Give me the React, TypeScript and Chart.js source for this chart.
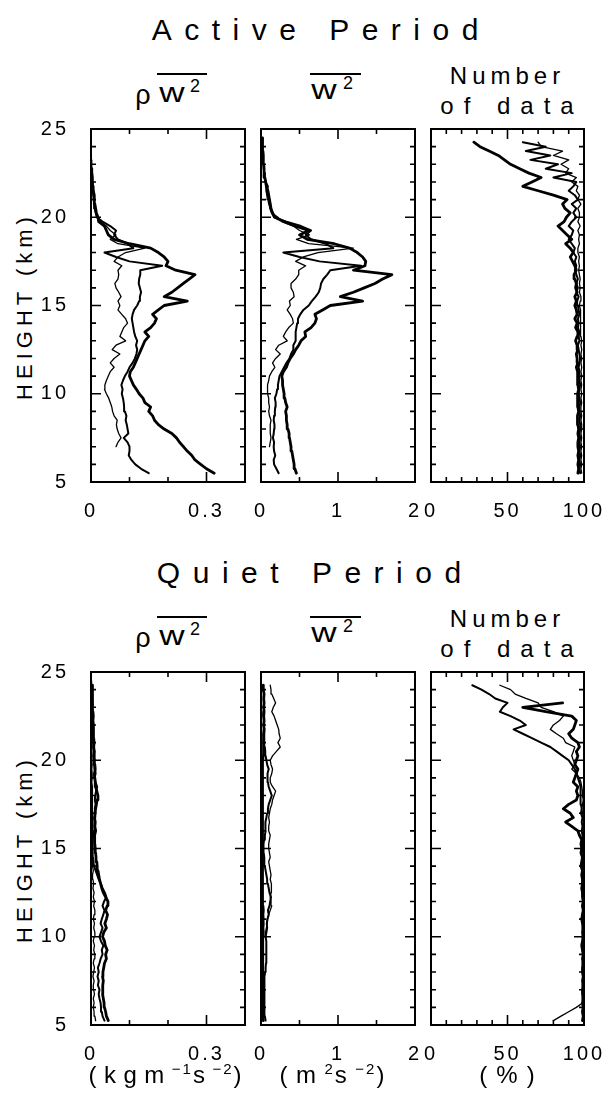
import React, { useEffect, useRef } from 'react';
import { Chart, registerables } from 'chart.js';

Chart.register(...registerables);

const FONT = '"Liberation Sans", Arial, Helvetica, sans-serif';
const _ = null;

// Heights (km), shared by every profile
const heights = [
  5.25, 5.5, 5.75, 6, 6.25, 6.5, 6.75, 7, 7.25, 7.5, 7.75, 8, 8.25, 8.5, 8.75, 9,
  9.25, 9.5, 9.75, 10, 10.25, 10.5, 10.75, 11, 11.25, 11.5, 11.75, 12, 12.25, 12.5, 12.75, 13,
  13.25, 13.5, 13.75, 14, 14.25, 14.5, 14.75, 15, 15.25, 15.5, 15.75, 16, 16.25, 16.5, 16.75, 17,
  17.25, 17.5, 17.75, 18, 18.25, 18.5, 18.75, 19, 19.25, 19.5, 19.75, 20, 20.25, 20.5, 20.75, 21,
  21.25, 21.5, 21.75, 22, 22.25, 22.5, 22.75, 23, 23.25, 23.5, 23.75, 24, 24.25, 24.5, 24.75, 25,
];

// ---------- Active period ----------
const activeRhoW2Thick = [
  _, 0.32, 0.30, 0.285, 0.27, 0.262, 0.25, 0.24, 0.23, 0.222, 0.21, 0.19, 0.175, 0.165, 0.16, 0.15,
  0.155, 0.14, 0.135, 0.125, 0.118, 0.11, 0.105, 0.10, 0.102, 0.11, 0.115, 0.12, 0.125, 0.13, 0.135, 0.14,
  0.15, 0.14, 0.155, 0.165, 0.17, 0.16, 0.175, 0.19, 0.25, 0.19, 0.21, 0.225, 0.24, 0.255, 0.27, 0.22,
  0.195, 0.2, 0.19, 0.175, 0.155, 0.1, 0.06, 0.045, 0.04, 0.035, 0.02, 0.018, 0.014, 0.012, 0.01, 0.009,
  0.008, 0.006, 0.005, 0.004, 0.003, 0.002, 0.002, _, _, _, _, _, _, _, _, _,
];
const activeRhoW2Mid = [
  _, 0.15, 0.13, 0.115, 0.105, 0.098, 0.1, 0.1, 0.095, 0.085, 0.097, 0.095, 0.093, 0.09, 0.092, 0.088,
  0.086, 0.085, 0.083, 0.08, 0.082, 0.079, 0.083, 0.088, 0.095, 0.1, 0.108, 0.114, 0.118, 0.12, 0.117, 0.12,
  0.115, 0.112, 0.11, 0.108, 0.106, 0.108, 0.112, 0.12, 0.125, 0.127, 0.13, 0.127, 0.124, 0.125, 0.128, 0.128,
  0.185, 0.1, 0.065, 0.035, 0.11, 0.095, 0.07, 0.06, 0.065, 0.05, 0.03, 0.015, 0.012, 0.01, 0.009, 0.008,
  0.006, 0.005, 0.006, 0.004, 0.003, 0.003, _, _, _, _, _, _, _, _, _, _,
];
const activeRhoW2Thin = [
  _, _, _, _, _, _, _, 0.065, 0.07, 0.078, 0.072, 0.068, 0.066, 0.068, 0.06, 0.056,
  0.054, 0.05, 0.046, 0.04, 0.035, 0.036, 0.04, 0.045, 0.05, 0.06, 0.05, 0.06, 0.075, 0.055, 0.065, 0.09,
  0.075, 0.08, 0.085, 0.095, 0.09, 0.08, 0.07, 0.075, 0.07, 0.078, 0.072, 0.065, 0.062, 0.07, 0.072, 0.07,
  0.08, 0.06, 0.07, 0.09, 0.14, 0.07, 0.05, 0.065, 0.05, 0.04, 0.025, 0.02, 0.012, 0.01, 0.008, 0.007,
  0.006, 0.005, 0.004, 0.004, 0.003, 0.003, 0.002, 0.002, 0.002, _, _, _, _, _, _, _,
];
const activeW2Thick = [
  _, 0.46, 0.44, 0.43, 0.42, 0.41, 0.40, 0.39, 0.38, 0.37, 0.365, 0.35, 0.34, 0.33, 0.33, 0.32,
  0.34, 0.32, 0.31, 0.30, 0.29, 0.28, 0.28, 0.27, 0.29, 0.33, 0.35, 0.38, 0.42, 0.45, 0.49, 0.52,
  0.58, 0.57, 0.65, 0.7, 0.72, 0.7, 0.8, 0.9, 1.32, 1.03, 1.2, 1.34, 1.48, 1.58, 1.7, 1.2,
  1.35, 1.36, 1.32, 1.25, 1.15, 0.95, 0.6, 0.5, 0.62, 0.45, 0.3, 0.18, 0.15, 0.13, 0.12, 0.11,
  0.1, 0.09, 0.07, 0.06, 0.05, 0.04, 0.04, 0.035, 0.03, 0.03, 0.025, 0.02, 0.02, 0.02, _, _,
];
const activeW2Mid = [
  _, 0.23, 0.2, 0.17, 0.165, 0.185, 0.17, 0.165, 0.17, 0.155, 0.165, 0.17, 0.175, 0.165, 0.17, 0.18,
  0.185, 0.19, 0.18, 0.2, 0.21, 0.22, 0.23, 0.24, 0.27, 0.3, 0.33, 0.37, 0.39, 0.42, 0.42, 0.45,
  0.45, 0.45, 0.46, 0.47, 0.48, 0.51, 0.55, 0.62, 0.66, 0.71, 0.75, 0.77, 0.78, 0.81, 0.86, 0.9,
  1.3, 0.76, 0.5, 0.29, 0.94, 0.84, 0.65, 0.58, 0.65, 0.52, 0.33, 0.17, 0.14, 0.12, 0.12, 0.11,
  0.08, 0.07, 0.09, 0.06, 0.05, 0.05, _, _, _, _, _, _, _, _, _, _,
];
const activeW2Thin = [
  _, _, _, _, _, _, _, 0.11, 0.12, 0.13, 0.12, 0.12, 0.12, 0.13, 0.11, 0.1,
  0.11, 0.1, 0.1, 0.085, 0.08, 0.09, 0.1, 0.11, 0.14, 0.18, 0.15, 0.19, 0.25, 0.19, 0.23, 0.34,
  0.29, 0.32, 0.36, 0.42, 0.41, 0.38, 0.34, 0.38, 0.37, 0.43, 0.42, 0.39, 0.39, 0.45, 0.49, 0.49,
  0.58, 0.45, 0.55, 0.74, 1.2, 0.62, 0.46, 0.63, 0.5, 0.42, 0.27, 0.22, 0.14, 0.12, 0.1, 0.09,
  0.08, 0.07, 0.06, 0.06, 0.05, 0.05, 0.03, 0.03, 0.03, _, _, _, _, _, _, _,
];
const activeCountThick = [
  _, 96, 96.5, 96, 96.5, 96, 96.5, 96, 96, 96.5, 96, 96.5, 96, 95.5, 96, 96.5,
  96, 96, 95.5, 96, 96.5, 96, 96, 95.5, 96, 95, 96, 95.5, 95, 96, 95.5, 94.5,
  95.5, 96, 94.5, 95.5, 94, 95.5, 95, 94, 95, 94, 95.5, 94.5, 95, 94, 93.5, 95,
  94, 92.5, 91, 93, 91, 88, 92, 89, 86, 83, 87, 88.5, 91, 87.5, 86, 89,
  80, 70, 60, 66, 72, 64, 58, 52, 48, 44, 38, 32, 28, _, _, _,
];
const activeCountMid = [
  _, 97.5, 97, 97.5, 97, 97.5, 97, 97.5, 97, 97.5, 97, 97.5, 97.5, 97, 97.5, 97,
  97, 97.5, 97, 96.5, 97, 97.5, 97, 97, 97, 96.5, 97, 97.5, 97, 96.5, 96, 97,
  96.5, 97, 96, 96.5, 96, 97, 96.5, 96, 95.5, 96.5, 95, 96, 95, 96, 95, 94,
  95, 94, 95, 93, 94, 92, 90, 92, 93, 90, 92, 95, 93, 95, 92, 96,
  94, 90, 93, 95, 80, 92, 75, 83, 65, 78, 62, 75, 60, _, _, _,
];
const activeCountThin = [
  _, 98.5, 98, 98.5, 98, 98.5, 98, 98.5, 98, 98.5, 98, 98.5, 98.5, 98, 98.5, 98,
  98, 98.5, 98, 98.5, 98, 98.5, 98, 98.5, 98, 98.5, 98, 98.5, 98, 98.5, 98, 98.5,
  98, 97.5, 98, 97.5, 98, 97.5, 98, 97, 97.5, 98, 97, 97.5, 97, 97.5, 97, 96.5,
  97, 96.5, 97, 96, 96, 97, 96.5, 97, 96, 97.5, 96, 97, 97, 96, 98, 96,
  97, 95, 96, 92, 95, 88, 90, 85, 90, 80, 86, 72, 70, _, _, _,
];

// ---------- Quiet period ----------
const quietRhoW2Thick = [
  0.045, 0.04, 0.038, 0.035, 0.034, 0.032, 0.03, 0.031, 0.03, 0.032, 0.03, 0.031, 0.033, 0.035, 0.04, 0.038,
  0.042, 0.037, 0.035, 0.03, 0.033, 0.04, 0.036, 0.04, 0.043, 0.038, 0.042, 0.044, 0.038, 0.032, 0.028, 0.025,
  0.022, 0.02, 0.018, 0.016, 0.015, 0.013, 0.012, 0.011, 0.01, 0.009, 0.01, 0.012, 0.01, 0.011, 0.009, 0.01,
  0.012, 0.014, 0.016, 0.018, 0.015, 0.012, 0.011, 0.01, 0.009, 0.011, 0.01, 0.008, 0.009, 0.008, 0.007, 0.008,
  0.007, 0.006, 0.007, 0.006, 0.005, 0.006, 0.005, 0.004, 0.005, 0.004, 0.004, 0.003, 0.003, _, _, _,
];
const quietRhoW2Mid = [
  0.035, 0.03, 0.028, 0.026, 0.025, 0.022, 0.02, 0.022, 0.018, 0.02, 0.017, 0.02, 0.018, 0.022, 0.025, 0.03,
  0.028, 0.032, 0.026, 0.022, 0.026, 0.03, 0.025, 0.028, 0.032, 0.035, 0.03, 0.034, 0.04, 0.036, 0.03, 0.026,
  0.02, 0.016, 0.012, 0.008, 0.006, 0.005, 0.004, 0.004, 0.004, 0.005, 0.006, 0.008, 0.009, 0.01, 0.008, 0.012,
  0.01, 0.012, 0.01, 0.011, 0.013, 0.016, 0.012, 0.009, 0.012, 0.01, 0.008, 0.01, 0.007, 0.009, 0.006, 0.007,
  0.005, 0.006, 0.004, 0.005, 0.004, 0.003, 0.004, 0.003, 0.003, 0.002, _, _, _, _, _, _,
];
const quietRhoW2Thin = [
  0.012, 0.01, 0.008, 0.006, 0.008, 0.006, 0.009, 0.007, 0.006, 0.008, 0.005, 0.007, 0.009, 0.006, 0.008, 0.01,
  0.007, 0.009, 0.006, 0.008, 0.01, 0.007, 0.009, 0.006, 0.008, 0.01, 0.007, 0.009, 0.006, 0.008, 0.005, 0.007,
  0.005, 0.004, 0.006, 0.004, 0.003, 0.005, 0.004, 0.003, 0.004, 0.003, 0.005, 0.004, 0.003, 0.004, 0.003, 0.005,
  0.004, 0.003, 0.004, 0.003, 0.004, 0.003, 0.002, 0.003, 0.003, 0.002, 0.003, 0.002, 0.003, 0.002, 0.002, 0.003,
  0.002, 0.002, 0.003, 0.002, 0.002, 0.002, 0.001, 0.002, 0.002, 0.001, 0.002, 0.001, 0.001, 0.001, _, _,
];
const quietW2Thick = [
  0.03, 0.025, 0.02, 0.025, 0.02, 0.025, 0.02, 0.022, 0.02, 0.025, 0.02, 0.022, 0.025, 0.02, 0.025, 0.02,
  0.022, 0.025, 0.02, 0.025, 0.03, 0.025, 0.03, 0.028, 0.025, 0.03, 0.025, 0.02, 0.025, 0.02, 0.022, 0.02,
  0.018, 0.02, 0.015, 0.018, 0.015, 0.018, 0.015, 0.02, 0.018, 0.015, 0.02, 0.018, 0.02, 0.015, 0.018, 0.02,
  0.022, 0.018, 0.02, 0.025, 0.02, 0.022, 0.018, 0.02, 0.025, 0.02, 0.022, 0.025, 0.03, 0.035, 0.03, 0.035,
  0.03, 0.035, 0.04, 0.035, 0.04, 0.035, 0.04, 0.035, 0.04, 0.035, 0.04, 0.03, 0.03, _, _, _,
];
const quietW2Mid = [
  0.06, 0.05, 0.045, 0.04, 0.045, 0.04, 0.05, 0.045, 0.04, 0.05, 0.045, 0.055, 0.06, 0.065, 0.07, 0.065,
  0.075, 0.07, 0.065, 0.06, 0.07, 0.08, 0.075, 0.085, 0.1, 0.09, 0.11, 0.12, 0.13, 0.11, 0.1, 0.09,
  0.08, 0.07, 0.06, 0.05, 0.045, 0.04, 0.035, 0.03, 0.035, 0.04, 0.05, 0.06, 0.055, 0.06, 0.07, 0.08,
  0.09, 0.1, 0.12, 0.14, 0.12, 0.1, 0.09, 0.08, 0.09, 0.1, 0.08, 0.07, 0.06, 0.055, 0.05, 0.045,
  0.04, 0.045, 0.04, 0.035, 0.04, 0.035, 0.03, _, _, _, _, _, _, _, _, _,
];
const quietW2Thin = [
  _, _, _, _, _, _, _, _, _, _, _, _, _, _, _, _,
  _, _, _, 0.05, 0.06, 0.07, 0.08, 0.08, 0.1, 0.12, 0.14, 0.13, 0.12, 0.13, 0.14, 0.13,
  0.12, 0.13, 0.12, 0.11, 0.1, 0.12, 0.11, 0.1, 0.1, 0.11, 0.12, 0.1, 0.1, 0.11, 0.1, 0.11,
  0.12, 0.14, 0.15, 0.17, 0.19, 0.15, 0.12, 0.12, 0.14, 0.15, 0.13, 0.12, 0.15, 0.2, 0.25, 0.22,
  0.25, 0.235, 0.23, 0.21, 0.19, 0.17, 0.14, 0.16, 0.19, 0.165, 0.14, 0.13, 0.12, _, _, _,
];
const quietCountThick = [
  99, 99.5, 99, 99.5, 99, 99.5, 99, 99, 99.5, 99, 99.5, 99, 99, 99.5, 99, 99.5,
  99, 98.5, 99, 99.5, 99, 99.5, 99, 98.5, 99, 99.5, 99, 99.5, 99, 99, 98.5, 99,
  99, 98.5, 99, 98, 98.5, 99, 98, 98.5, 98, 98.5, 97, 96, 92, 88, 93, 91,
  86.5, 90, 95, 96, 95, 96, 93, 94, 95, 96, 94, 95, 96, 95, 97, 96,
  92, 90, 93, 94, 95, 92, 75, 60, 86, _, _, _, _, _, _, _,
];
const quietCountMid = [
  99.5, 99.5, 99, 99.5, 99.5, 99, 99.5, 99.5, 99, 99.5, 99.5, 99, 99.5, 99, 99.5, 99.5,
  99, 99.5, 99.5, 99, 99.5, 99, 99.5, 99.5, 99, 99.5, 99, 99.5, 99.5, 99, 99.5, 99,
  99.5, 99, 99.5, 99, 99.5, 99, 99.5, 99, 99, 99.5, 99, 98.5, 99, 98.5, 99, 98,
  98.5, 98, 97.5, 98, 98, 97.5, 97, 96, 95, 94, 92, 90, 86, 82, 78, 72,
  66, 60, 54, 62, 58, 52, 45, 47, 50, 42, 38, 33, 27, _, _, _,
];
const quietCountThin = [
  80, 85, 90, 95, 99, 99.5, 99.8, 99.5, 99.8, 99.5, 99.8, 99.5, 99.8, 99.5, 99.8, 99.5,
  99.8, 99.5, 99.8, 99.5, 99.8, 99.5, 99.8, 99.5, 99.8, 99.5, 99.8, 99.5, 99.8, 99.5, 99.8, 99.5,
  99.8, 99.5, 99.8, 99.5, 99.8, 99.5, 99.8, 99.5, 99.5, 99.8, 99.5, 99.8, 99.5, 99.8, 99.5, 99,
  99.5, 99, 99.5, 99, 99, 98.5, 98, 97, 95, 92, 94, 93, 92, 93, 94, 88,
  86.5, 82, 78, 80, 84, 86.5, 80, 72, 70, 62, 55, 52, 45, _, _, _,
];

// ---------- Axis ticks ----------
const rhoTickValues = [0, 0.3];
const rhoTickText = ['0', '0.3'];
const w2TickValues = [0, 1, 2];
const w2TickText = ['0', '1', '2'];
const countTickValues = [0, 50, 100];
const countTickText = ['0', '50', '100'];

const THICK = 2.8;
const MID = 2.0;
const THIN = 1.3;

const PAD_T = 14;
const BOTTOM = 44;

const frameTicks = {
  id: 'frameTicks',
  beforeDraw(chart: any) {
    (chart.ctx as any).letterSpacing = '3px';
  },
  afterDraw(chart: any) {
    const { ctx, chartArea: a, scales } = chart;
    const xs = scales.x;
    const ys = scales.y;
    ctx.save();
    ctx.strokeStyle = '#000';
    ctx.lineWidth = 2;
    ctx.strokeRect(a.left, a.top, a.right - a.left, a.bottom - a.top);
    ctx.lineWidth = 1.6;
    ctx.beginPath();
    xs.ticks.forEach((t: any) => {
      const px = xs.getPixelForValue(t.value);
      if (px <= a.left + 1 || px >= a.right - 1) return;
      const len = t.label ? 10 : 5;
      ctx.moveTo(px, a.bottom);
      ctx.lineTo(px, a.bottom - len);
      ctx.moveTo(px, a.top);
      ctx.lineTo(px, a.top + len);
    });
    for (let v = ys.min; v <= ys.max; v += 1) {
      const py = ys.getPixelForValue(v);
      if (py <= a.top + 1 || py >= a.bottom - 1) continue;
      const len = v % 5 === 0 ? 10 : 5;
      ctx.moveTo(a.left, py);
      ctx.lineTo(a.left + len, py);
      ctx.moveTo(a.right, py);
      ctx.lineTo(a.right - len, py);
    }
    ctx.stroke();
    ctx.restore();
  },
};

type Series = { values: (number | null)[]; width: number };

type PanelProps = {
  left: number; top: number; width: number; height: number;
  yLabels: boolean; xMax: number; xStep: number;
  tickValues: number[]; tickText: string[];
  series: Series[]; padRight: number;
};

function Panel(p: PanelProps) {
  const ref = useRef<HTMLCanvasElement>(null);
  const leftM = p.yLabels ? p.left : 10;
  const cl = p.left - leftM;
  const ct = p.top - PAD_T;
  const cw = leftM + p.width + p.padRight;
  const ch = PAD_T + p.height + BOTTOM;

  useEffect(() => {
    if (!ref.current) return;
    const chart = new Chart(ref.current, {
      type: 'scatter',
      data: {
        datasets: p.series.map((s) => ({
          data: heights
            .map((h, i) => (s.values[i] == null ? null : { x: s.values[i] as number, y: h }))
            .filter((d) => d !== null) as { x: number; y: number }[],
          showLine: true,
          borderColor: '#000',
          backgroundColor: '#000',
          borderWidth: s.width,
          pointRadius: 0,
          pointHoverRadius: 0,
          tension: 0,
          fill: false,
          borderJoinStyle: 'round' as const,
          borderCapStyle: 'round' as const,
        })),
      },
      options: {
        responsive: false,
        animation: false,
        devicePixelRatio: 1,
        events: [],
        layout: { padding: { top: PAD_T, right: p.padRight, left: 0, bottom: 0 } },
        plugins: { legend: { display: false }, tooltip: { enabled: false } },
        scales: {
          x: {
            type: 'linear',
            position: 'bottom',
            min: 0,
            max: p.xMax,
            grid: { display: false },
            border: { display: false },
            ticks: {
              stepSize: p.xStep,
              autoSkip: false,
              maxRotation: 0,
              padding: 9,
              color: '#000',
              font: { family: FONT, size: 20 },
              callback: (v: any) => {
                const k = p.tickValues.findIndex((t) => Math.abs(t - Number(v)) < 1e-9);
                return k >= 0 ? p.tickText[k] : '';
              },
            },
            afterFit: (s: any) => { s.height = BOTTOM; s.paddingLeft = 0; s.paddingRight = 0; },
          },
          y: {
            type: 'linear',
            min: 5,
            max: 25,
            grid: { display: false },
            border: { display: false },
            ticks: {
              display: p.yLabels,
              stepSize: 5,
              padding: 14,
              color: '#000',
              font: { family: FONT, size: 20 },
            },
            afterFit: (s: any) => { s.width = leftM; s.paddingTop = 0; s.paddingBottom = 0; },
          },
        },
      } as any,
      plugins: [frameTicks],
    });
    return () => chart.destroy();
  }, []);

  return (
    <canvas
      ref={ref}
      width={cw}
      height={ch}
      style={{ position: 'absolute', left: cl, top: ct, width: cw, height: ch }}
    />
  );
}

function Txt({ x, y, size, spacing = 0, sx = 1, children }: { x: number; y: number; size: number; spacing?: number; sx?: number; children: React.ReactNode }) {
  return (
    <div
      style={{
        position: 'absolute',
        left: x,
        top: y - 0.8465 * size,
        fontSize: size,
        lineHeight: `${size}px`,
        fontFamily: FONT,
        letterSpacing: spacing,
        paddingLeft: spacing,
        whiteSpace: 'nowrap',
        transform: `translateX(-50%) scaleX(${sx})`,
        color: '#000',
      }}
    >
      {children}
    </div>
  );
}

function Bar({ x1, x2, y }: { x1: number; x2: number; y: number }) {
  return <div style={{ position: 'absolute', left: x1, top: y, width: x2 - x1, height: 2, background: '#000' }} />;
}

const unitSup: React.CSSProperties = { fontSize: 15, verticalAlign: 'baseline', position: 'relative', top: -9, letterSpacing: 2 };

function Row({ top, title, titleX }: { top: number; title: string; titleX: number }) {
  const H = 353;
  const cols = [91, 261, 431];
  const W = 154;
  const off = top - 129;
  const active = title.startsWith('A');
  return (
    <>
      <Txt x={titleX} y={40 + off} size={30} spacing={12.5}>{title}</Txt>
      {/* rho w^2 header */}
      <Txt x={143} y={105 + off} size={27}>ρ</Txt>
      <Txt x={172} y={103 + off} size={27} sx={1.3}>w</Txt>
      <Txt x={195} y={92 + off} size={18}>2</Txt>
      <Bar x1={157} x2={207} y={73 + off} />
      {/* w^2 header */}
      <Txt x={324} y={100 + off} size={27} sx={1.3}>w</Txt>
      <Txt x={348} y={89 + off} size={18}>2</Txt>
      <Bar x1={310} x2={361} y={73 + off} />
      <Txt x={505} y={84 + off} size={24} spacing={5}>Number</Txt>
      <Txt x={507} y={114 + off} size={24} spacing={10}>of data</Txt>
      <div
        style={{
          position: 'absolute', left: 25, top: top + H / 2, fontFamily: FONT, fontSize: 22,
          letterSpacing: 5, whiteSpace: 'nowrap', transform: 'translate(-50%, -50%) rotate(-90deg)',
          lineHeight: '22px',
        }}
      >
        HEIGHT (km)
      </div>
      <Panel left={cols[0]} top={top} width={W} height={H} yLabels xMax={0.4} xStep={0.1}
        tickValues={rhoTickValues} tickText={rhoTickText} padRight={8}
        series={active
          ? [{ values: activeRhoW2Thick, width: THICK }, { values: activeRhoW2Mid, width: MID }, { values: activeRhoW2Thin, width: THIN }]
          : [{ values: quietRhoW2Thick, width: THICK }, { values: quietRhoW2Mid, width: MID }, { values: quietRhoW2Thin, width: THIN }]} />
      <Panel left={cols[1]} top={top} width={W} height={H} yLabels={false} xMax={2} xStep={0.5}
        tickValues={w2TickValues} tickText={w2TickText} padRight={6}
        series={active
          ? [{ values: activeW2Thick, width: THICK }, { values: activeW2Mid, width: MID }, { values: activeW2Thin, width: THIN }]
          : [{ values: quietW2Thick, width: THICK }, { values: quietW2Mid, width: MID }, { values: quietW2Thin, width: THIN }]} />
      <Panel left={cols[2]} top={top} width={153} height={H} yLabels={false} xMax={100} xStep={10}
        tickValues={countTickValues} tickText={countTickText} padRight={24}
        series={active
          ? [{ values: activeCountThick, width: THICK }, { values: activeCountMid, width: MID }, { values: activeCountThin, width: THIN }]
          : [{ values: quietCountThick, width: THICK }, { values: quietCountMid, width: MID }, { values: quietCountThin, width: THIN }]} />
    </>
  );
}

export default function App() {
  return (
    <div style={{ position: 'absolute', left: 0, top: 0, width: 608, height: 1093, background: '#fff', overflow: 'hidden' }}>
      <Row top={129} title="Active Period" titleX={315} />
      <Row top={672} title="Quiet Period" titleX={309} />
      <Txt x={165} y={1083} size={24} spacing={7.5}>
        (kgm<span style={unitSup}>−1</span>s<span style={unitSup}>−2</span>)
      </Txt>
      <Txt x={332} y={1083} size={24} spacing={8.5}>
        (m<span style={unitSup}>2</span>s<span style={unitSup}>−2</span>)
      </Txt>
      <Txt x={507} y={1083} size={24} spacing={9}>(%)</Txt>
    </div>
  );
}
